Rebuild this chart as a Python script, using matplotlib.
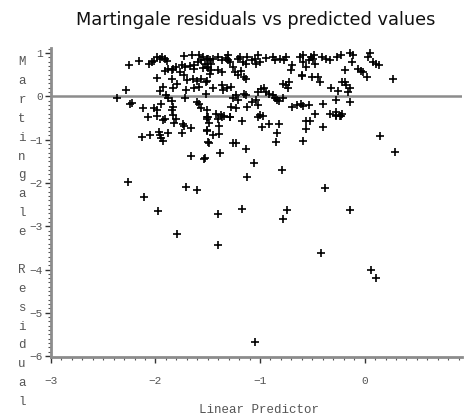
import matplotlib.pyplot as plt
import numpy as np
from matplotlib.ticker import MultipleLocator

# linear predictor / martingale residual pairs
predictor = [
    -2.265, -2.11, -1.98, -1.71, -1.60, -1.79, -1.40, -1.40, -1.17, -1.05,
    -0.78, -0.74, -0.38, -0.42, -0.14, 0.06, 0.11,
    -0.56, -0.52, -0.56, -0.40, -0.59, 0.15, 0.29, -0.27, -0.23,
    -1.51, -1.49, -1.39, -1.51, -1.45, -1.39, -1.49, -1.38, -1.53, -1.26,
    -1.23, -1.13, -1.17, -1.06, -1.12, -0.79, -1.02, -0.97, -0.98, -0.91,
    -0.82, -0.84, -0.85, -1.40, -1.36, -1.29,
    -2.07, -1.99, -1.93, -1.91, -1.82, -1.74, -1.73, -1.66, -1.75, -1.88,
    -1.97, -1.96, -1.95, -1.93, -2.05, -2.13, -1.66, -1.54, -1.51, -1.50,
    -2.25, -2.16, -2.06, -2.03, -2.01, -1.99, -1.96, -1.94, -1.91, -1.89,
    -1.73, -1.65, -1.91, -1.88, -1.84, -1.83, -1.80, -1.99, -1.84,
    -1.75, -1.72, -1.67, -1.63, -1.59, -1.56, -1.53,
    -1.77, -1.73, -1.70, -1.79, -1.83, -1.93, -1.96,
    -1.64, -1.60, -1.56, -1.51, -1.63, -1.58, -2.28, -2.37, -2.24, -2.22,
    -2.12, -2.01, -1.99, -1.90, -1.88, -1.84, -1.83, -1.84, -1.95, -1.72,
    -1.71, -1.60, -1.58, -1.56, -1.51, -1.51, -1.52, -1.83, -1.80,
    -1.58, -1.55, -1.50, -1.63, -1.55, -1.51,
    -1.51, -1.48, -1.45, -1.47, -1.40, -1.36, -1.33, -1.31, -1.29, -1.31,
    -1.21, -1.19, -1.16, -1.13, -1.12, -1.08, -1.05, -1.04, -1.02, -1.00,
    -0.94, -0.88, -0.86, -0.81, -0.77, -0.75, -0.69, -0.70, -0.62, -0.59, -0.60,
    -1.50, -1.47, -1.48, -1.40, -1.36,
    -1.26, -1.24, -1.21, -1.18, -1.15, -1.13,
    -1.52, -1.45, -1.36, -1.35, -1.28, -1.32,
    -1.15, -1.13, -1.02, -0.99, -0.96, -0.94,
    -0.91, -0.88, -0.86, -0.84, -0.82, -0.78,
    -0.78, -0.75, -0.73, -0.72,
    -1.23, -1.26, -1.21,
    -1.28, -1.23, -1.12, -1.08, -1.04, -1.02, -1.00,
    -0.69, -0.65, -0.61,
    -1.50, -1.42, -1.37, -1.34, -1.29,
    -0.59, -0.51, -0.49, -0.48, -0.53, -0.47, -0.56, -0.41, -0.37, -0.33,
    -0.26, -0.23, -0.14, -0.11, -0.12, 0.03, 0.05, 0.08, 0.11, 0.14,
    -0.19, -0.06, -0.03, -0.02, 0.02,
    -0.60, -0.50, -0.45, -0.43,
    -0.32, -0.25, -0.22, -0.19, -0.18, -0.14, -0.16,
    0.27, -0.27, -0.14, -0.59, -0.53, -0.40,
    -0.47, -0.33, -0.27, -0.27, -0.24, -0.22,
]
residual = [
    -1.99, -2.32, -2.65, -2.09, -2.17, -3.19, -2.73, -3.43, -2.61, -5.68,
    -2.84, -2.62, -2.12, -3.63, -2.62, -4.02, -4.19,
    -0.57, -0.58, -0.75, -0.72, -1.04, -0.92, -1.29, -0.45, -0.45,
    -0.48, -0.61, -0.69, -0.80, -0.90, -0.86, -1.07, -1.30, -1.43, -1.07,
    -1.07, -1.21, -0.57, -1.55, -1.86, -1.71, -0.48, -0.46, -0.71, -0.65,
    -0.63, -0.84, -1.05, -0.52, -0.48, -0.48,
    -0.48, -0.46, -0.55, -0.53, -0.62, -0.65, -0.69, -0.73, -0.84, -0.84,
    -0.82, -0.90, -0.96, -1.04, -0.90, -0.95, -1.38, -1.44, -0.79, -1.05,
    0.73, 0.81, 0.75, 0.79, 0.81, 0.91, 0.87, 0.91, 0.85, 0.81,
    0.93, 0.96, 0.58, 0.62, 0.60, 0.64, 0.68, 0.43, 0.41,
    0.72, 0.68, 0.70, 0.72, 0.79, 0.83, 0.75,
    0.56, 0.48, 0.37, 0.29, 0.18, 0.21, 0.12,
    0.41, 0.35, 0.39, 0.35, 0.18, 0.21, 0.15, -0.04, -0.19, -0.15,
    -0.27, -0.27, -0.32, 0.02, -0.05, -0.12, -0.25, -0.32, -0.17, -0.04,
    0.14, -0.13, -0.19, -0.27, -0.32, -0.52, 0.06, -0.44, -0.52,
    0.95, 0.91, 0.87, 0.62, 0.65, 0.68,
    0.87, 0.83, 0.85, 0.75, 0.91, 0.83, 0.88, 0.83, 0.79, 0.95,
    0.85, 0.91, 0.79, 0.75, 0.91, 0.83, 0.87, 0.75, 0.95, 0.79,
    0.88, 0.91, 0.83, 0.87, 0.83, 0.91, 0.72, 0.60, 0.91, 0.79, 0.48,
    0.65, 0.60, 0.52, 0.60, 0.56,
    0.68, 0.56, 0.50, 0.58, 0.45, 0.41,
    0.33, 0.19, 0.25, 0.14, 0.21, 0.19,
    0.06, 0.02, 0.10, 0.16, 0.19, 0.10,
    0.06, 0.04, -0.04, -0.09, -0.12, -0.05,
    0.29, 0.25, 0.18, 0.32,
    0.02, -0.05, -0.09,
    -0.25, -0.27, -0.25, -0.13, -0.09, -0.21, -0.44,
    -0.25, -0.21, -0.17,
    -0.48, -0.40, -0.44, -0.45, -0.48,
    0.95, 0.91, 0.87, 0.95, 0.83, 0.75, 0.68, 0.91, 0.87, 0.83,
    0.91, 0.95, 0.99, 0.95, 0.79, 0.91, 0.99, 0.79, 0.75, 0.72,
    0.60, 0.62, 0.58, 0.56, 0.45,
    0.47, 0.45, 0.45, 0.32,
    0.19, 0.12, 0.32, 0.33, 0.25, 0.19, 0.10,
    0.39, -0.09, -0.13, -0.23, -0.21, -0.17,
    -0.40, -0.40, -0.36, -0.44, -0.46, -0.42,
]

xTicks = [-3, -2, -1, 0]
yTicks = [1, 0, -1, -2, -3, -4, -5, -6]
yLabel = 'Martingale Residual'

axisGrey = '#8c8c8c'
textGrey = '#555555'
monoFont = 'Liberation Mono'
W, H = 467, 419

fig = plt.figure(figsize=(4.67, 4.19), dpi=100)
ax = fig.add_axes([0.109, 0.148, 0.880, 0.737])

ax.axhline(0, color=axisGrey, lw=1.8, zorder=1)
ax.plot(predictor, residual, '+', color='black', ms=5.5, mew=1.2, zorder=2)

ax.set_xlim(-3, 0.93)
ax.set_ylim(-6.02, 1.11)

for side in ['top', 'right']:
    ax.spines[side].set_visible(False)
for side in ['left', 'bottom']:
    ax.spines[side].set_color(axisGrey)
    ax.spines[side].set_linewidth(2)

ax.set_xticks(xTicks)
ax.set_yticks(yTicks)
ax.xaxis.set_minor_locator(MultipleLocator(0.1))
ax.yaxis.set_minor_locator(MultipleLocator(0.1))
ax.tick_params(which='major', length=4, width=1, color='#333333', labelcolor=textGrey,
               labelsize=8)
ax.tick_params(axis='y', which='major', pad=2)
ax.tick_params(axis='x', which='major', pad=10)
ax.tick_params(which='minor', length=2, width=0.8, color='#555555')
for lab in ax.get_xticklabels() + ax.get_yticklabels():
    lab.set_family(monoFont)

# stacked y label, one letter per row
for i, ch in enumerate(yLabel):
    if ch != ' ':
        fig.text(22 / W, 1 - (62 + i * 18.9) / H, ch, family=monoFont, fontsize=9,
                 color=textGrey, ha='center', va='center')

fig.text(259 / W, 1 - 410 / H, 'Linear Predictor', family=monoFont, fontsize=9,
         color=textGrey, ha='center', va='center')

fig.text(256 / W, 1 - 20 / H, 'Martingale residuals vs predicted values',
         family='DejaVu Sans', fontsize=12.8, color='#111111', ha='center', va='center')

plt.savefig('out.png', dpi=100)
